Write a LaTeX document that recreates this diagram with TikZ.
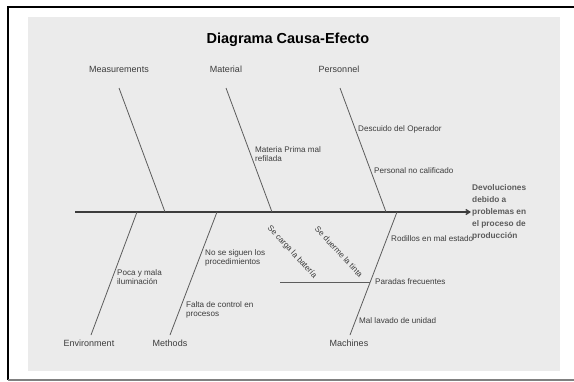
\documentclass[tikz,border=0pt]{standalone}
\usepackage{fontspec}
\setmainfont{Liberation Sans}
\usepackage{xcolor}
\usepackage{tikz}
\usetikzlibrary{arrows.meta}
\definecolor{panelgray}{HTML}{EBEBEB}
\definecolor{inkgray}{HTML}{3C3C3C}
\definecolor{bonegray}{HTML}{5C5C5C}

\begin{document}
\begin{tikzpicture}[x=1pt,y=-1pt,
  catlabel/.style={text=inkgray,font=\fontsize{9}{10}\selectfont,inner sep=1pt},
  causetxt/.style={text=inkgray,font=\fontsize{8.1}{9}\selectfont,anchor=west,align=left,inner sep=1pt},
  bone/.style={draw=bonegray,line width=0.8pt}]
  \useasboundingbox (0,0) rectangle (574,381);
  \fill[panelgray] (28,17) rectangle (560,371);
  \draw[line width=2pt] (8,380) -- (8,7) -- (574,7);
  \draw[gray,line width=1.2pt] (8,380) -- (574,380);
  \node[font=\bfseries\fontsize{14.5}{16}\selectfont] (title) at (288,40) {Diagrama Causa-Efecto};

  % spine and effect
  \coordinate (tail) at (75,212);
  \node[text=bonegray,font=\bfseries\fontsize{8.3}{12}\selectfont,align=left,anchor=west,inner sep=1pt] (effect) at (471,212)
    {Devoluciones\\debido a\\problemas en\\el proceso de\\producción};
  \draw[draw=inkgray,line width=1.3pt,-{Straight Barb[length=4pt,width=5pt]}] (tail) -- (effect.west);

  % category labels
  \node[catlabel] (meas) at (119,69) {Measurements};
  \node[catlabel] (mat) at (226,69) {Material};
  \node[catlabel] (pers) at (339,69) {Personnel};
  \node[catlabel] (env) at (89,343) {Environment};
  \node[catlabel] (meth) at (170,343) {Methods};
  \node[catlabel] (mach) at (349,343) {Machines};

  % bones
  \coordinate (measTop) at (119,88);  \coordinate (measFoot) at (165,212);
  \coordinate (matTop) at (226,88);   \coordinate (matFoot) at (272,212);
  \coordinate (persTop) at (340,88);  \coordinate (persFoot) at (386,212);
  \coordinate (envTop) at (137,212);  \coordinate (envFoot) at (91,335);
  \coordinate (methTop) at (217,212); \coordinate (methFoot) at (170,335);
  \coordinate (machTop) at (397,212); \coordinate (machFoot) at (350,335);
  \draw[bone] (measTop) -- (measFoot);
  \draw[bone] (matTop) -- (matFoot);
  \draw[bone] (persTop) -- (persFoot);
  \draw[bone] (envTop) -- (envFoot);
  \draw[bone] (methTop) -- (methFoot);
  \draw[bone] (machTop) -- (machFoot);
  \coordinate (parStart) at (280,282); \coordinate (parEnd) at (370,282);
  \draw[bone] (parStart) -- (parEnd);

  % causes
  \node[causetxt] (materia) at (254,154.5) {Materia Prima mal\\refilada};
  \node[causetxt] (descuido) at (357,129) {Descuido del Operador};
  \node[causetxt] (personal) at (373,171) {Personal no calificado};
  \node[causetxt] (poca) at (116,277.5) {Poca y mala\\iluminación};
  \node[causetxt] (nosiguen) at (204,257.5) {No se siguen los\\procedimientos};
  \node[causetxt] (falta) at (185,309.5) {Falta de control en\\procesos};
  \node[causetxt] (rodillos) at (390,239) {Rodillos en mal estado};
  \node[causetxt] (paradas) at (374,282) {Paradas frecuentes};
  \node[causetxt] (lavado) at (358,321) {Mal lavado de unidad};
  \node[causetxt,anchor=center,rotate=-47] (carga) at (292,252) {Se carga la batería};
  \node[causetxt,anchor=center,rotate=-47] (tinta) at (339,252) {Se duerme la tinta};
\end{tikzpicture}
\end{document}
